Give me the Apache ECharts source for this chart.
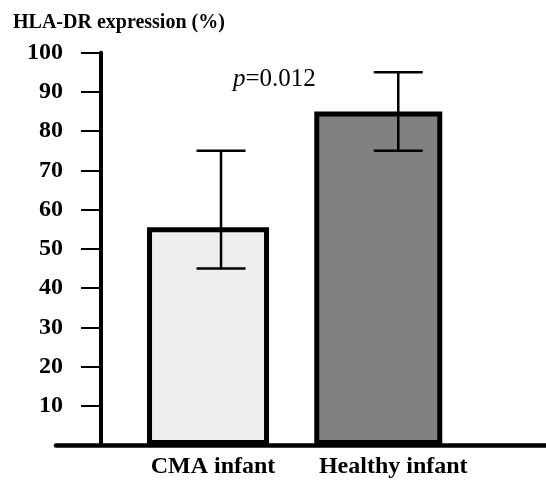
<!DOCTYPE html>
<html>
<head>
<meta charset="utf-8">
<script src="https://cdn.jsdelivr.net/npm/echarts@6/dist/echarts.min.js"></script>
<style>
html,body{margin:0;padding:0;background:#fff;}
#c{width:546px;height:481px;}
</style>
</head>
<body>
<div id="c"></div>
<script>
// ---- data ----
var categories = ['CMA infant', 'Healthy infant'];
var means = [55.5, 85];
var errLow = [45, 75];
var errHigh = [75, 95];
var yTicks = [0, 10, 20, 30, 40, 50, 60, 70, 80, 90, 100];
var yTitle = 'HLA-DR expression (%)';
var pText = '0.012';

// ---- style constants ----
var FONT = '"Liberation Serif", "Times New Roman", serif';
var fills = ['#eeeeee', '#808080'];
var barWidths = [122, 128];
var errOffsets = [10, 20];   // px shift of error bars to the right of bar centres
var capHalf = 24.5;
var labelPads = [4, 30];

var chart = echarts.init(document.getElementById('c'), null, {renderer: 'canvas'});

var gridTop = 52.7, gridBottom = 36;

var option = {
  animation: false,
  backgroundColor: '#fff',
  title: [{
    text: yTitle,
    left: 8, top: 8,
    textStyle: {fontFamily: FONT, fontWeight: 'bold', fontSize: 20, color: '#000'}
  }, {
    text: '{i|p}={n|' + pText + '}',
    left: 228, top: 62,
    textStyle: {
      rich: {
        i: {fontFamily: FONT, fontStyle: 'italic', fontWeight: 'normal', fontSize: 25, color: '#000'},
        n: {fontFamily: FONT, fontWeight: 'normal', fontSize: 25, color: '#000'}
      },
      fontFamily: FONT, fontWeight: 'normal', fontSize: 25, color: '#000'
    }
  }],
  grid: [
    {left: 56, right: 0, top: gridTop, bottom: gridBottom},
    {left: 127.4, right: 84.1, top: gridTop, bottom: gridBottom}
  ],
  xAxis: [{
    gridIndex: 0, type: 'category', data: [''],
    axisLine: {show: true, lineStyle: {color: '#000', width: 4.5}},
    axisTick: {show: false}, axisLabel: {show: false}, splitLine: {show: false}
  }, {
    gridIndex: 1, type: 'category', data: categories,
    axisLine: {show: false}, axisTick: {show: false}, splitLine: {show: false},
    axisLabel: {
      margin: 10,
      formatter: function (v, i) { return '{a' + i + '|' + v + '}'; },
      rich: {
        a0: {fontFamily: FONT, fontWeight: 'bold', fontSize: 24, color: '#000', padding: [0, 0, 0, labelPads[0]]},
        a1: {fontFamily: FONT, fontWeight: 'bold', fontSize: 24, color: '#000', padding: [0, 0, 0, labelPads[1]]}
      }
    }
  }],
  yAxis: [{
    gridIndex: 0, type: 'value', min: yTicks[0], max: yTicks[yTicks.length - 1], interval: 10,
    offset: -45,
    axisLine: {show: true, lineStyle: {color: '#000', width: 4}},
    axisTick: {show: true, inside: false, length: 20, lineStyle: {color: '#000', width: 2}},
    axisLabel: {
      margin: 38, fontFamily: FONT, fontWeight: 'bold', fontSize: 24, color: '#000',
      formatter: function (v) { return v === 0 ? '' : String(v); }
    },
    splitLine: {show: false}
  }, {
    gridIndex: 1, type: 'value', min: yTicks[0], max: yTicks[yTicks.length - 1], interval: 10,
    show: false
  }],
  series: [{
    type: 'bar', xAxisIndex: 1, yAxisIndex: 1,
    barWidth: barWidths[0], barGap: '-100%',
    data: [means[0], '-'],
    itemStyle: {color: fills[0], borderColor: '#000', borderWidth: 5},
    z: 2
  }, {
    type: 'bar', xAxisIndex: 1, yAxisIndex: 1,
    barWidth: barWidths[1], barGap: '-100%',
    data: ['-', means[1]],
    itemStyle: {color: fills[1], borderColor: '#000', borderWidth: 5},
    z: 2
  }, {
    type: 'custom', xAxisIndex: 1, yAxisIndex: 1, z: 5,
    data: categories.map(function (c, i) { return [i, errLow[i], errHigh[i]]; }),
    renderItem: function (params, api) {
      var i = api.value(0);
      var lo = api.coord([i, api.value(1)]);
      var hi = api.coord([i, api.value(2)]);
      var x = lo[0] + errOffsets[i];
      var st = {stroke: '#000', lineWidth: 2.5};
      return {
        type: 'group',
        children: [
          {type: 'line', shape: {x1: x, y1: hi[1], x2: x, y2: lo[1]}, style: st},
          {type: 'line', shape: {x1: x - capHalf, y1: hi[1], x2: x + capHalf, y2: hi[1]}, style: st},
          {type: 'line', shape: {x1: x - capHalf, y1: lo[1], x2: x + capHalf, y2: lo[1]}, style: st}
        ]
      };
    }
  }]
};
chart.setOption(option);
</script>
</body>
</html>
